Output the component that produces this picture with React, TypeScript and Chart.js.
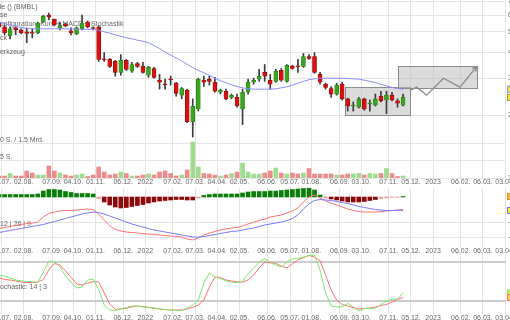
import React, { useEffect, useRef } from "react";
import { Chart, registerables } from "chart.js";
Chart.register(...registerables);

// ---------- DATA ----------
const weekDates = [
  "2021-07-02","2021-07-09","2021-07-16","2021-07-23","2021-07-30","2021-08-06","2021-08-13","2021-08-20","2021-08-27",
  "2021-09-03","2021-09-10","2021-09-17","2021-09-24","2021-10-01","2021-10-08","2021-10-15","2021-10-22","2021-10-29",
  "2021-11-05","2021-11-12","2021-11-19","2021-11-26","2021-12-03","2021-12-10","2021-12-17","2021-12-24","2021-12-31",
  "2022-01-07","2022-01-14","2022-01-21","2022-01-28","2022-02-04","2022-02-11","2022-02-18","2022-02-25","2022-03-04",
  "2022-03-11","2022-03-18","2022-03-25","2022-04-01","2022-04-08","2022-04-15","2022-04-22","2022-04-29","2022-05-06",
  "2022-05-13","2022-05-20","2022-05-27","2022-06-03","2022-06-10","2022-06-17","2022-06-24","2022-07-01","2022-07-08",
  "2022-07-15","2022-07-22","2022-07-29","2022-08-05","2022-08-12","2022-08-19","2022-08-26","2022-09-02","2022-09-09",
  "2022-09-16","2022-09-23","2022-09-30","2022-10-07","2022-10-14","2022-10-21","2022-10-28","2022-11-04","2022-11-11",
  "2022-11-18","2022-11-25"
];
const openP = [55.7,52.8,47.9,52.2,51.1,50.0,49.5,49.5,55.7,60.1,57.6,52.2,54.5,50.6,48.9,51.7,55.7,52.2,52.8,36.9,36.9,36.1,32.0,36.5,32.4,35.3,34.2,31.0,33.4,29.35,28.1,29.7,28.4,24.9,26.3,18.6,21.4,29.35,29.7,28.7,25.7,26.0,24.3,24.3,21.4,25.7,28.7,29.7,32.0,29.35,29.0,32.7,29.0,34.2,34.2,34.2,38.1,38.1,31.3,28.1,26.8,25.2,28.1,23.9,22.1,21.8,23.9,22.6,22.3,24.6,23.6,24.9,23.4,22.3];
const highP = [57.0,53.9,52.8,52.8,51.7,52.2,51.7,55.7,60.1,61.5,57.6,55.7,55.1,52.2,52.8,60.1,56.3,52.8,53.3,39.8,37.3,36.5,38.9,36.9,35.7,35.7,35.7,34.2,33.8,31.3,29.7,30.7,28.7,27.1,26.6,23.9,30.0,30.7,30.7,30.3,26.6,26.6,25.2,25.2,26.6,29.7,30.0,33.1,34.9,31.3,33.1,33.4,34.9,34.6,36.9,39.4,38.9,39.8,32.0,28.4,27.4,28.4,28.7,24.1,23.1,24.3,24.1,23.6,25.2,26.0,26.0,25.7,23.9,25.2];
const lowP = [51.7,48.4,46.3,48.4,48.9,44.4,46.8,48.9,55.4,57.0,53.3,51.1,52.8,48.4,48.4,51.1,52.2,51.1,36.1,36.1,33.8,30.7,31.0,32.7,32.0,33.8,31.7,30.3,30.0,26.6,26.6,27.8,24.6,23.9,18.4,15.7,20.9,27.4,27.8,25.7,25.2,23.6,23.9,21.8,18.0,25.2,28.1,29.0,29.0,26.6,28.7,29.0,28.7,33.1,32.0,33.8,36.9,31.7,28.1,26.6,24.3,24.9,23.6,20.9,20.9,21.6,21.1,20.9,22.1,23.1,20.3,23.4,21.8,22.1];
const closeP = [52.8,49.5,51.7,51.1,49.5,49.2,49.3,55.1,59.4,58.8,53.9,53.9,53.3,49.5,52.2,55.1,52.8,51.9,36.9,36.7,34.2,32.0,36.5,33.1,34.9,34.2,32.0,33.8,30.3,28.7,27.9,29.5,25.4,26.8,18.6,22.1,29.7,28.7,29.0,26.0,26.3,23.9,24.9,22.1,25.7,28.7,29.35,30.7,30.7,28.1,32.4,29.35,34.6,33.4,34.0,38.1,37.3,32.0,28.7,27.1,25.2,27.8,23.9,22.1,22.3,23.9,21.4,22.7,23.9,23.4,24.9,23.6,22.8,24.3];
const smaP = [55.7,54.8,53.9,53.1,52.5,51.9,51.7,51.7,51.7,51.7,51.7,51.7,51.7,51.6,51.5,51.5,51.4,51.4,50.9,50.0,49.3,48.4,47.6,46.8,46.3,45.6,45.1,44.4,43.0,41.6,40.0,38.7,37.5,36.3,34.9,33.8,32.7,31.9,31.0,30.0,29.2,28.6,27.9,27.4,27.0,26.7,26.6,26.6,26.6,26.6,26.7,27.0,27.3,27.8,28.4,29.0,29.5,29.8,30.0,30.0,30.0,30.0,30.0,29.9,29.8,29.7,29.35,29.0,28.6,28.1,27.6,27.1,26.8,26.6];
const volumeM = [2,2,4.5,2,2,7,5,3,3,12,7,5,3,2,3,4,1.5,3,11,6,3,4,6,4.5,2,2,3,4,3,6,7,4.5,2,3,8,36,11,4.5,4,3,2,3,4.5,6,15,6,4,4,5,7,10,5,4,5,4,5,9.5,4,4,4,4,3,3,4,4,4.5,3,4.5,4,4.5,9.5,4.5,1.5,2];
const macdLine = [-3.15,-3.05,-2.95,-2.85,-2.75,-2.65,-2.6,-2.5,-2.0,-1.65,-1.5,-1.4,-1.35,-1.35,-1.3,-1.25,-1.2,-1.25,-1.7,-2.3,-2.9,-3.25,-3.4,-3.5,-3.55,-3.6,-3.65,-3.7,-3.75,-3.8,-3.85,-3.9,-3.95,-4.0,-4.2,-4.3,-4.1,-3.8,-3.6,-3.45,-3.3,-3.2,-3.1,-3.05,-2.9,-2.7,-2.5,-2.35,-2.2,-2.0,-1.9,-1.8,-1.6,-1.4,-1.1,-0.5,0.0,0.2,-0.1,-0.4,-0.6,-0.8,-1.0,-1.2,-1.35,-1.45,-1.5,-1.5,-1.5,-1.45,-1.4,-1.35,-1.3,-1.25];
const signalLine = [-3.55,-3.45,-3.35,-3.25,-3.15,-3.05,-2.95,-2.85,-2.75,-2.6,-2.45,-2.3,-2.15,-2.0,-1.85,-1.7,-1.6,-1.5,-1.55,-1.7,-1.9,-2.1,-2.3,-2.5,-2.7,-2.85,-3.0,-3.15,-3.3,-3.4,-3.5,-3.6,-3.7,-3.8,-3.9,-4.0,-4.0,-3.95,-3.85,-3.75,-3.65,-3.55,-3.45,-3.4,-3.3,-3.2,-3.1,-2.95,-2.8,-2.7,-2.6,-2.5,-2.35,-2.15,-1.8,-1.2,-0.7,-0.35,-0.25,-0.3,-0.35,-0.45,-0.55,-0.65,-0.8,-0.95,-1.05,-1.15,-1.25,-1.3,-1.35,-1.35,-1.35,-1.35];
const macdHist = [0.25,0.25,0.25,0.25,0.25,0.25,0.25,0.3,0.6,0.75,0.75,0.7,0.55,0.45,0.35,0.35,0.35,0.3,-0.15,-0.5,-0.8,-1.0,-1.1,-1.05,-0.95,-0.85,-0.75,-0.6,-0.5,-0.4,-0.35,-0.3,-0.25,-0.25,-0.3,-0.3,-0.1,0.15,0.25,0.3,0.3,0.3,0.3,0.3,0.4,0.5,0.55,0.55,0.55,0.6,0.6,0.65,0.7,0.75,0.8,0.85,0.9,0.7,0.2,-0.1,-0.2,-0.3,-0.4,-0.5,-0.5,-0.5,-0.45,-0.35,-0.25,-0.15,-0.1,-0.05,-0.03,0.05];
const stochK = [60,58.5,55.4,52.3,50.8,50,49.7,48.5,64.6,81.5,80.8,72.3,58.5,49.2,40,41.5,52.3,53.8,38.5,13.8,6.2,5.4,7.7,10,12.3,12.3,10.8,10,9.2,7.7,6.9,6.2,5.4,5.4,9.2,13.8,21.5,47.7,63.1,56.9,54.6,50.8,49.2,48.2,50.8,61.5,70.8,80,85.4,80,75.4,72.3,80,84.6,85.7,87.7,90,90.8,67.7,32.3,12.3,10.8,11.2,16.2,10.8,4.6,8.5,8.8,8.8,14.6,20,22.3,23.1,32.3];
const stochD = [55.4,53,52.3,50.8,49.2,48.5,48.2,49.2,53,67.7,77.7,75.4,66.2,56.9,46.2,44.6,47.7,49.7,49.2,32.3,15.4,7.2,7.7,8.8,10.8,12.3,11.5,10.3,9.2,7.7,6.9,6.2,6.2,6.2,7.7,10.3,13.8,21.5,41.5,56.9,56.2,52.3,50.8,49.7,49.2,52.3,60,70.8,80,78.5,78,73.8,70.8,76.9,83.1,86.9,90,87.7,82.3,60,36.9,21.5,14.6,12.3,10,7.7,8.5,9.2,10.8,13.1,14.6,18.5,22.3,25.4];

const tickDates = ["2021-07-05","2021-08-02","2021-09-07","2021-10-04","2021-11-01","2021-12-06","2022-01-03","2022-02-07","2022-03-07","2022-04-04","2022-05-02","2022-06-06","2022-07-05","2022-08-01","2022-09-06","2022-10-03","2022-11-07","2022-12-05","2023-01-02","2023-02-06","2023-03-06","2023-04-03"];
const tickLabels = ["05.07.","02.08.","07.09.","04.10.","01.11.","06.12.","2022","07.02.","07.03.","04.04.","02.05.","06.06.","05.07.","01.08.","06.09.","03.10.","07.11.","05.12.","2023","06.02.","06.03.","03.04."];
const priceTicks = [10, 20, 30, 40, 50, 60, 70];
const volumeLevels = [18, 35];
const macdTicks = [-4, -2.5];
const stochTicks = [10, 50, 70];
const stochLevels = [20, 80];

// drawings (date, price)
const boxRanges = [
  { from: "2022-09-12", to: "2022-12-04", low: 20.0, high: 27.2 },
  { from: "2022-11-18", to: "2023-02-26", low: 26.9, high: 34.3 },
];
const arrowDates = ["2022-12-04", "2022-12-12", "2022-12-25", "2023-01-15", "2023-02-05", "2023-02-26"];
const arrowPrices = [26.2, 27.2, 24.9, 30.0, 27.2, 34.1];

// ---------- helpers ----------
const DAY0 = Date.UTC(2021, 6, 1);
const toDay = (s: string) => (Date.UTC(+s.slice(0, 4), +s.slice(5, 7) - 1, +s.slice(8, 10)) - DAY0) / 86400000;
const days = weekDates.map(toDay);
const tickDays = tickDates.map(toDay);
const X_MIN = 2.2;
const X_MAX = 642.2;
const FONT = "'Liberation Sans', Arial, sans-serif";
const GRID = "#e4e4e4";
const TXT = "#666";

function xScaleOpts(): any {
  return {
    type: "linear",
    min: X_MIN,
    max: X_MAX,
    offset: false,
    bounds: "data",
    grid: { color: GRID, drawTicks: false, offset: false },
    border: { display: false },
    ticks: { display: false },
    afterBuildTicks: (s: any) => {
      s.ticks = tickDays.map((v) => ({ value: v }));
    },
    afterFit: (s: any) => {
      s.height = 10;
      s.paddingLeft = 0;
      s.paddingRight = 0;
    },
  };
}

const xLabelPlugin = {
  id: "xLabels",
  afterDraw(chart: any) {
    const ctx = chart.ctx;
    const xs = chart.scales.x;
    ctx.save();
    ctx.font = `7px ${FONT}`;
    ctx.fillStyle = TXT;
    ctx.textAlign = "center";
    ctx.textBaseline = "middle";
    tickDays.forEach((d, i) => ctx.fillText(tickLabels[i], xs.getPixelForValue(d), chart.chartArea.bottom + 4.5));
    ctx.restore();
  },
};

function yRightOpts(extra: any, ticks: number[]): any {
  return {
    position: "right",
    border: { display: false },
    grid: { color: GRID, drawTicks: false },
    ticks: { font: { size: 7, family: FONT }, color: TXT, padding: 2, callback: (v: any) => String(v) },
    afterBuildTicks: (s: any) => {
      s.ticks = ticks.map((v) => ({ value: v }));
    },
    afterFit: (s: any) => {
      s.width = 34;
      s.paddingTop = 0;
      s.paddingBottom = 0;
    },
    ...extra,
  };
}

function textPlugin(id: string, items: { t: string; x: number; y: number }[], size: number): any {
  return {
    id,
    beforeDatasetsDraw(chart: any) {
      const ctx = chart.ctx;
      ctx.save();
      ctx.font = `${size}px ${FONT}`;
      ctx.fillStyle = TXT;
      ctx.textBaseline = "middle";
      ctx.textAlign = "left";
      items.forEach((it) => ctx.fillText(it.t, it.x, it.y));
      ctx.restore();
    },
  };
}

function levelPlugin(id: string, axis: string, levels: number[], color: string, width: number): any {
  return {
    id,
    beforeDatasetsDraw(chart: any) {
      const ctx = chart.ctx;
      const ys = chart.scales[axis];
      const { left, right } = chart.chartArea;
      ctx.save();
      ctx.strokeStyle = color;
      ctx.lineWidth = width;
      levels.forEach((v) => {
        const y = Math.round(ys.getPixelForValue(v)) + (width % 2 ? 0.5 : 0);
        ctx.beginPath();
        ctx.moveTo(left, y);
        ctx.lineTo(right, y);
        ctx.stroke();
      });
      ctx.restore();
    },
  };
}

function markerPlugin(id: string, axis: string, marks: { v: number; fill: string; stroke: string }[]): any {
  return {
    id,
    afterDraw(chart: any) {
      const ctx = chart.ctx;
      const ys = chart.scales[axis];
      const x = chart.chartArea.right + 1;
      ctx.save();
      marks.forEach((m) => {
        const y = ys.getPixelForValue(m.v);
        ctx.fillStyle = m.fill;
        ctx.strokeStyle = m.stroke;
        ctx.lineWidth = 1;
        ctx.fillRect(x, y - 3.5, 14, 7);
        ctx.strokeRect(x + 0.5, y - 3, 14, 6);
      });
      ctx.restore();
    },
  };
}

const up = (i: number) => closeP[i] >= openP[i];
const baseOptions = {
  responsive: false,
  animation: false,
  devicePixelRatio: 1,
  events: [],
  layout: { padding: 0, autoPadding: false },
  plugins: { legend: { display: false }, tooltip: { enabled: false } },
};

export default function App() {
  const refA = useRef<HTMLCanvasElement>(null);
  const refB = useRef<HTMLCanvasElement>(null);
  const refC = useRef<HTMLCanvasElement>(null);

  useEffect(() => {
    document.body.style.margin = "0";
    const charts: Chart[] = [];

    const drawingPlugin = {
      id: "drawings",
      beforeDatasetsDraw(chart: any) {
        const ctx = chart.ctx;
        const xs = chart.scales.x;
        const ys = chart.scales.y;
        ctx.save();
        boxRanges.forEach((b) => {
          const x0 = Math.round(xs.getPixelForValue(toDay(b.from)));
          const x1 = Math.round(xs.getPixelForValue(toDay(b.to)));
          const y0 = Math.round(ys.getPixelForValue(b.high));
          const y1 = Math.round(ys.getPixelForValue(b.low));
          ctx.fillStyle = "rgba(190,190,190,0.55)";
          ctx.fillRect(x0, y0, x1 - x0, y1 - y0);
          ctx.strokeStyle = "#8c8c8c";
          ctx.lineWidth = 1;
          ctx.strokeRect(x0 + 0.5, y0 + 0.5, x1 - x0, y1 - y0);
        });
        const pts = arrowDates.map((d, i) => [xs.getPixelForValue(toDay(d)), ys.getPixelForValue(arrowPrices[i])]);
        ctx.strokeStyle = "#8a8a8a";
        ctx.lineWidth = 1.3;
        ctx.beginPath();
        pts.forEach((p, i) => (i ? ctx.lineTo(p[0], p[1]) : ctx.moveTo(p[0], p[1])));
        ctx.stroke();
        const a = pts[pts.length - 1];
        const b = pts[pts.length - 2];
        const ang = Math.atan2(a[1] - b[1], a[0] - b[0]);
        ctx.beginPath();
        ctx.moveTo(a[0] - 5 * Math.cos(ang - 0.5), a[1] - 5 * Math.sin(ang - 0.5));
        ctx.lineTo(a[0], a[1]);
        ctx.lineTo(a[0] - 5 * Math.cos(ang + 0.5), a[1] - 5 * Math.sin(ang + 0.5));
        ctx.stroke();
        ctx.restore();
      },
    };

    // ---------- price + volume ----------
    charts.push(
      new Chart(refA.current!, {
        type: "bar",
        data: {
          datasets: [
            {
              type: "line",
              data: days.map((d, i) => ({ x: d, y: smaP[i] })),
              borderColor: "#8c8cff",
              borderWidth: 1,
              pointRadius: 0,
              yAxisID: "y",
              order: 1,
            } as any,
            {
              type: "bar",
              data: days.map((d, i) => ({ x: d, y: [openP[i], closeP[i]] })),
              backgroundColor: days.map((_, i) => (up(i) ? "#3aa61e" : "#d81010")),
              borderColor: days.map((_, i) => (up(i) ? "#2a7a16" : "#8a0a0a")),
              borderWidth: 0.6,
              borderSkipped: false,
              barThickness: 4,
              minBarLength: 1,
              grouped: false,
              yAxisID: "y",
              order: 2,
            } as any,
            {
              type: "bar",
              data: days.map((d, i) => ({ x: d, y: [lowP[i], highP[i]] })),
              backgroundColor: "#3c3c3c",
              barThickness: 1,
              grouped: false,
              yAxisID: "y",
              order: 3,
            } as any,
            {
              type: "bar",
              data: days.map((d, i) => ({ x: d, y: volumeM[i] })),
              backgroundColor: days.map((_, i) => (up(i) ? "#9fdc8f" : "#ec8c8c")),
              barThickness: 4,
              grouped: false,
              yAxisID: "yVol",
              order: 4,
            } as any,
          ],
        },
        options: {
          ...baseOptions,
          scales: {
            x: xScaleOpts(),
            y: yRightOpts({ type: "logarithmic", min: 10, max: 71 }, priceTicks),
            yVol: { type: "linear", display: false, min: 0, max: 178 },
          } as any,
        } as any,
        plugins: [
          levelPlugin("volLv", "yVol", volumeLevels, GRID, 1),
          textPlugin("txtA", [
            { t: "Bumble () (BMBL)", x: -18.5, y: 7 },
            { t: "Kurse", x: -11, y: 15 },
            { t: "Konfiguration: Kurs + MACD + Stochastik", x: -5, y: 24 },
            { t: "Zurück", x: -14.5, y: 38 },
            { t: "Zeichenwerkzeug", x: -30, y: 52 },
            { t: "30 S. / 1.5 Mrd.", x: -4, y: 140 },
            { t: "15 S.", x: -4, y: 157 },
          ], 7),
          drawingPlugin,
          xLabelPlugin,
          markerPlugin("mkA", "y", [
            { v: smaP[smaP.length - 1], fill: "#f2ee30", stroke: "#8c8cff" },
            { v: closeP[closeP.length - 1], fill: "#f2ee30", stroke: "#9a9a30" },
          ]),
        ],
      })
    );

    // ---------- MACD ----------
    charts.push(
      new Chart(refB.current!, {
        type: "bar",
        data: {
          datasets: [
            {
              type: "line",
              data: days.map((d, i) => ({ x: d, y: signalLine[i] })),
              borderColor: "#7878ff",
              borderWidth: 1,
              pointRadius: 0,
              order: 1,
            } as any,
            {
              type: "line",
              data: days.map((d, i) => ({ x: d, y: macdLine[i] })),
              borderColor: "#ff7070",
              borderWidth: 1,
              pointRadius: 0,
              order: 2,
            } as any,
            {
              type: "bar",
              data: days.map((d, i) => ({ x: d, y: macdHist[i] })),
              backgroundColor: macdHist.map((v) => (v >= 0 ? "#0a7d0a" : v > -0.2 ? "#e8a0a0" : "#8e0a0a")),
              barThickness: 4,
              grouped: false,
              order: 3,
            } as any,
          ],
        },
        options: {
          ...baseOptions,
          scales: {
            x: xScaleOpts(),
            y: yRightOpts({ type: "linear", min: -5.0, max: 0.9 }, macdTicks),
          } as any,
        } as any,
        plugins: [
          textPlugin("txtB", [{ t: "MACD: 12 | 26 | 9", x: -24.5, y: 36 }], 7),
          xLabelPlugin,
          markerPlugin("mkB", "y", [
            { v: macdHist[macdHist.length - 1], fill: "#f5c040", stroke: "#e09020" },
            { v: signalLine[signalLine.length - 1], fill: "#f2ee30", stroke: "#7878ff" },
          ]),
        ],
      })
    );

    // ---------- Stochastic ----------
    charts.push(
      new Chart(refC.current!, {
        type: "line",
        data: {
          datasets: [
            {
              data: days.map((d, i) => ({ x: d, y: stochK[i] })),
              borderColor: "#7ce86a",
              borderWidth: 1,
              pointRadius: 0,
              order: 1,
            },
            {
              data: days.map((d, i) => ({ x: d, y: stochD[i] })),
              borderColor: "#ff7070",
              borderWidth: 1,
              pointRadius: 0,
              order: 2,
            },
          ],
        },
        options: {
          ...baseOptions,
          scales: {
            x: xScaleOpts(),
            y: yRightOpts({ type: "linear", min: 0, max: 95.4, grid: { display: false } }, stochTicks),
          } as any,
        } as any,
        plugins: [
          levelPlugin("stLv", "y", stochLevels, "#cccccc", 2),
          textPlugin("txtC", [{ t: "Stochastic: 14 | 3", x: -6.7, y: 35 }], 7),
          xLabelPlugin,
          markerPlugin("mkC", "y", [
            { v: stochK[stochK.length - 1], fill: "#c8f040", stroke: "#7ce86a" },
            { v: stochD[stochD.length - 1], fill: "#f5d040", stroke: "#ff7070" },
          ]),
        ],
      })
    );

    return () => charts.forEach((c) => c.destroy());
  }, []);

  return (
    <div style={{ position: "relative", width: 510, height: 320, overflow: "hidden", background: "#fff" }}>
      <canvas ref={refA} width={540} height={188} style={{ position: "absolute", left: 0, top: 0 }} />
      <canvas ref={refB} width={540} height={69} style={{ position: "absolute", left: 0, top: 188 }} />
      <canvas ref={refC} width={540} height={72} style={{ position: "absolute", left: 0, top: 252 }} />
    </div>
  );
}
